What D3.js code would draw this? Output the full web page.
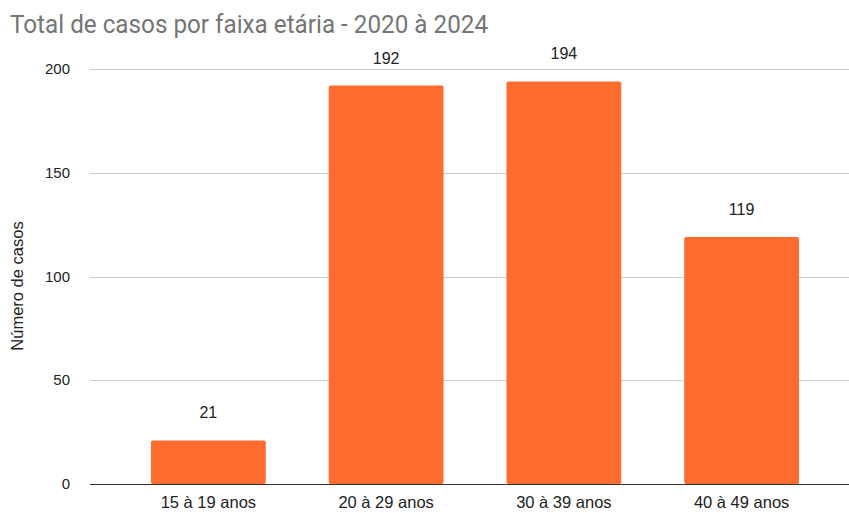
<!DOCTYPE html>
<html><head><meta charset="utf-8">
<script src="https://cdn.jsdelivr.net/npm/d3@7"></script>
<style>body{margin:0;background:#fff}</style>
</head><body>
<script>
const categories = ["15 à 19 anos", "20 à 29 anos", "30 à 39 anos", "40 à 49 anos"];
const values = [21, 192, 194, 119];
const yTicks = [0, 50, 100, 150, 200];
const title = "Total de casos por faixa etária - 2020 à 2024";
const yTitle = "Número de casos";

const W = 849, H = 513;
const svg = d3.select("body").append("svg").attr("width", W).attr("height", H);

const x = d3.scaleBand().domain(categories).range([90, 860]).paddingInner(0.354).paddingOuter(0.343);
const y = d3.scaleLinear().domain([0, 200]).range([484, 69]);

svg.append("text").attr("x", 10).attr("y", 33)
  .attr("font-family", "Roboto").attr("font-size", 26.5).attr("fill", "#757575")
  .attr("textLength", 478).attr("lengthAdjust", "spacingAndGlyphs").text(title);

svg.append("g").selectAll("line").data(yTicks.filter(d => d > 0)).join("line")
  .attr("x1", 90).attr("x2", W).attr("y1", d => Math.round(y(d)) + 0.5).attr("y2", d => Math.round(y(d)) + 0.5)
  .attr("stroke", "#cccccc").attr("stroke-width", 1);

svg.append("g").selectAll("text").data(yTicks).join("text")
  .attr("x", 70).attr("y", d => y(d) + 5).attr("text-anchor", "end")
  .attr("font-family", "Liberation Sans, Arial").attr("font-size", 15).attr("fill", "#222")
  .text(d => d);

svg.append("g").selectAll("rect").data(values).join("rect")
  .attr("x", (d, i) => x(categories[i])).attr("width", x.bandwidth())
  .attr("y", d => y(d)).attr("height", d => y(0) - y(d))
  .attr("rx", 2).attr("fill", "#ff6d2e");

svg.append("line").attr("x1", 90).attr("x2", W).attr("y1", 484.5).attr("y2", 484.5)
  .attr("stroke", "#333").attr("stroke-width", 1);

svg.append("g").selectAll("text").data(values).join("text")
  .attr("x", (d, i) => x(categories[i]) + x.bandwidth() / 2).attr("y", d => y(d) - 22)
  .attr("text-anchor", "middle").attr("font-family", "Liberation Sans, Arial").attr("font-size", 16).attr("fill", "#222")
  .text(d => d);

svg.append("g").selectAll("text").data(categories).join("text")
  .attr("x", d => x(d) + x.bandwidth() / 2).attr("y", 508)
  .attr("text-anchor", "middle").attr("font-family", "Liberation Sans, Arial").attr("font-size", 16.5).attr("fill", "#222")
  .text(d => d);

svg.append("text").attr("transform", "translate(23,286) rotate(-90)")
  .attr("text-anchor", "middle").attr("font-family", "Liberation Sans, Arial").attr("font-size", 16.5).attr("fill", "#222")
  .text(yTitle);
</script>
</body></html>
